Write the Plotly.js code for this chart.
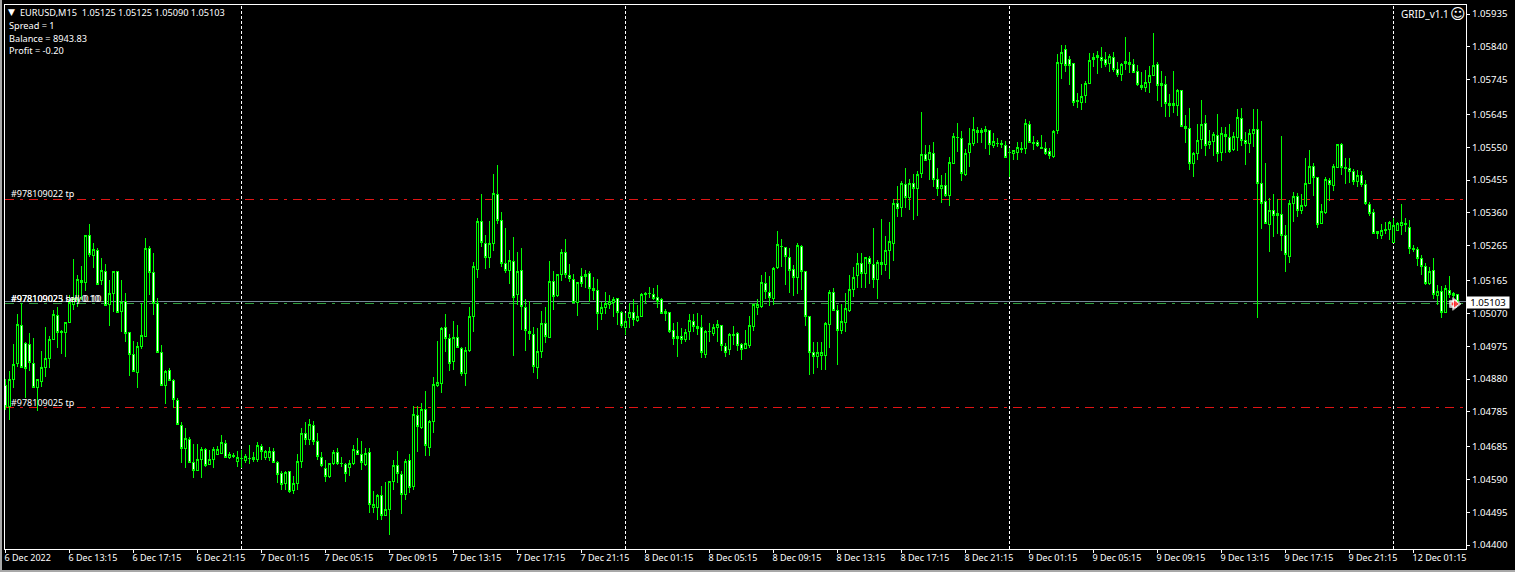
<!DOCTYPE html>
<html>
<head>
<meta charset="utf-8">
<script src="https://cdn.plot.ly/plotly-3.0.1.min.js"></script>
<style>
html,body{margin:0;padding:0;background:#000;overflow:hidden;width:1515px;height:572px}
#chart{position:absolute;left:0;top:0;width:1515px;height:572px}
.edge{position:absolute;background:#a8a8a8;z-index:5}
#chart .boxes path,#chart .shapelayer path{shape-rendering:crispEdges !important}
</style>
</head>
<body>
<div id="chart"></div>
<div class="edge" style="left:0;top:0;width:2px;height:572px"></div>
<div class="edge" style="left:0;top:570px;width:1515px;height:2px"></div>
<script>
// prices in points (1 point = 0.00001)
const opens=[
104860,104801,104880,104926,105036,104984,104981,104926,104855,104873,
104913,104940,104995,105064,105018,105014,105044,105094,105109,105166,
105159,105296,105238,105251,105164,105192,105096,105128,105192,105075,
105105,105015,104952,104899,104974,105003,105258,105189,105099,104958,
104861,104906,104877,104819,104747,104679,104706,104640,104616,104648,
104677,104632,104648,104663,104665,104695,104654,104660,104643,104651,
104644,104650,104652,104648,104685,104654,104654,104671,104639,104606,
104579,104612,104557,104579,104641,104723,104706,104745,104699,104654,
104622,104598,104636,104668,104636,104633,104625,104635,104674,104662,
104632,104668,104508,104508,104542,104487,104503,104584,104631,104605,
104546,104645,104569,104774,104739,104792,104683,104758,104861,104868,
105028,104998,104930,105001,104969,104896,104963,105061,105197,105336,
105272,105231,105272,105414,105339,105214,105193,105220,105125,105194,
105087,105018,105009,104913,104960,105041,105001,105162,105121,105182,
105246,105179,105168,105102,105175,105175,105185,105142,105136,105068,
105086,105096,105102,105113,105071,105028,105059,105073,105048,105060,
105128,105128,105125,105115,105111,105076,105073,105021,104996,105003,
104994,105017,105047,105032,105029,104952,105017,105012,105028,105035,
104974,104965,105010,105012,104980,104967,104976,105031,105086,105089,
105156,105130,105112,105202,105263,105260,105232,105197,105173,105263,
105191,105061,104957,104944,104947,104947,105038,105130,105077,105020,
105044,105077,105138,105179,105214,105184,105229,105212,105169,105217,
105211,105251,105271,105386,105375,105443,105404,105445,105430,105474,
105529,105514,105532,105457,105430,105440,105410,105503,105579,105576,
105471,105534,105561,105599,105593,105600,105599,105554,105561,105561,
105555,105535,105532,105534,105547,105547,105616,105563,105564,105550,
105547,105538,105523,105598,105793,105833,105804,105793,105686,105679,
105699,105735,105803,105814,105809,105804,105793,105810,105775,105760,
105792,105795,105790,105769,105729,105722,105737,105758,105790,105728,
105732,105670,105675,105670,105715,105609,105605,105503,105531,105572,
105619,105557,105566,105583,105534,105587,105578,105543,105577,105633,
105569,105560,105589,105601,105445,105393,105326,105366,105359,105356,
105295,105233,105387,105408,105366,105381,105444,105494,105463,105329,
105360,105454,105440,105492,105558,105492,105489,105479,105452,105467,
105442,105384,105361,105305,105296,105312,105311,105274,105308,105323,
105330,105318,105257,105255,105227,105205,105156,105194,105120,105133,
105072,105135,105127,105125];
const highs=[
104880,104904,104982,105068,105099,104988,105012,104998,104880,104961,
105029,105003,105080,105088,105022,105046,105123,105227,105181,105207,
105297,105328,105273,105258,105229,105213,105167,105192,105192,105167,
105128,105017,104990,104988,105099,105287,105265,105244,105114,104979,
104905,104911,104880,104825,104756,104738,104712,104693,104693,104685,
104680,104675,104683,104687,104719,104704,104670,104666,104673,104675,
104663,104690,104668,104699,104693,104675,104685,104680,104642,104613,
104613,104614,104600,104663,104738,104756,104765,104759,104723,104669,
104646,104638,104675,104680,104654,104638,104646,104689,104709,104701,
104680,104680,104556,104548,104571,104582,104584,104646,104672,104614,
104649,104663,104802,104802,104812,104845,104762,104885,104990,105031,
105068,105010,105048,105036,104974,104974,105087,105218,105344,105415,
105296,105337,105473,105499,105363,105316,105253,105290,105246,105258,
105110,105106,105029,105028,105077,105087,105221,105192,105185,105256,
105285,105212,105185,105161,105201,105195,105192,105176,105169,105103,
105132,105123,105116,105115,105078,105070,105099,105111,105094,105128,
105132,105146,105142,105152,105113,105082,105075,105043,105044,105028,
105026,105068,105068,105072,105065,105022,105041,105039,105050,105037,
104983,105012,105032,105015,104983,105021,105063,105098,105111,105181,
105190,105178,105203,105308,105285,105262,105260,105211,105272,105267,
105192,105063,104987,104986,104986,105044,105137,105142,105094,105096,
105128,105182,105205,105243,105243,105233,105236,105316,105224,105342,
105294,105335,105400,105438,105453,105489,105457,105472,105481,105651,
105556,105556,105564,105489,105469,105475,105522,105590,105619,105598,
105545,105605,105637,105608,105605,105611,105600,105592,105576,105571,
105567,105547,105542,105565,105565,105632,105625,105581,105571,105585,
105566,105547,105600,105820,105846,105846,105814,105794,105706,105732,
105742,105821,105821,105828,105839,105826,105820,105824,105795,105794,
105868,105824,105805,105788,105767,105772,105785,105879,105795,105771,
105756,105704,105771,105718,105716,105643,105664,105537,105617,105687,
105643,105599,105595,105646,105607,105607,105617,105595,105660,105662,
105595,105604,105660,105660,105625,105503,105402,105414,105400,105582,
105325,105397,105422,105418,105416,105518,105542,105503,105463,105387,
105463,105460,105501,105559,105563,105518,105520,105486,105484,105481,
105455,105392,105370,105308,105327,105334,105336,105344,105334,105386,
105344,105339,105267,105262,105238,105214,105204,105229,105151,105150,
105153,105177,105132,105125];
const lows=[
104791,104762,104854,104916,104913,104825,104902,104854,104789,104858,
104887,104911,104993,104969,104953,104945,105041,105080,105088,105109,
105133,105234,105200,105152,105152,105090,105032,105075,105070,105017,
104988,104890,104899,104855,104966,105003,105123,105065,104955,104860,
104808,104875,104796,104748,104637,104622,104637,104593,104613,104593,
104627,104632,104622,104661,104663,104653,104649,104651,104627,104622,
104637,104634,104639,104639,104646,104646,104642,104637,104579,104560,
104560,104550,104548,104559,104622,104689,104689,104689,104646,104627,
104581,104595,104632,104632,104627,104583,104600,104632,104660,104617,
104629,104494,104494,104473,104473,104484,104429,104559,104579,104490,
104529,104552,104559,104670,104735,104658,104658,104725,104858,104841,
104959,104904,104906,104969,104889,104860,104959,105017,105173,105261,
105198,105202,105251,105328,105205,105187,105155,104948,105094,105022,
104962,104993,104898,104880,104942,104985,105001,105080,105118,105164,
105171,105161,105099,105062,105146,105142,105102,105108,105022,105050,
105067,105082,105060,105036,105028,105007,105028,105034,105046,105058,
105099,105115,105108,105084,105068,105048,105014,104978,104944,104980,
104986,104993,105017,105007,104942,104940,104988,105004,104988,104961,
104944,104949,104978,104961,104935,104966,104969,105019,105065,105086,
105111,105092,105094,105197,105205,105152,105128,105121,105125,105137,
105033,104892,104894,104913,104906,104906,104969,105077,104920,105010,
105017,105075,105118,105142,105142,105142,105154,105142,105112,105181,
105192,105169,105222,105349,105349,105374,105369,105340,105352,105462,
105511,105455,105436,105409,105390,105405,105381,105502,105537,105451,
105467,105494,105554,105561,105563,105545,105528,105549,105550,105547,
105519,105465,105513,105513,105533,105531,105561,105542,105552,105544,
105528,105516,105518,105588,105747,105768,105730,105669,105663,105658,
105677,105733,105783,105762,105778,105783,105768,105768,105754,105742,
105773,105764,105764,105727,105714,105711,105708,105757,105685,105667,
105637,105636,105650,105640,105607,105563,105484,105465,105513,105544,
105525,105546,105524,105508,105511,105532,105532,105539,105539,105553,
105498,105532,105551,105056,105315,105327,105246,105291,105298,105249,
105190,105216,105334,105349,105357,105378,105443,105409,105316,105328,
105357,105394,105423,105489,105469,105443,105447,105442,105436,105436,
105383,105351,105299,105284,105284,105299,105282,105272,105308,105296,
105306,105241,105248,105207,105180,105151,105151,105110,105094,105056,
105072,105113,105113,105090];
const closes=[
104801,104880,104923,105038,104913,104911,104928,104855,104878,104914,
104940,104995,105067,105014,105014,105044,105101,105114,105169,105159,
105296,105241,105255,105154,105195,105093,105128,105192,105073,105101,
105012,104952,104901,104974,105007,105258,105189,105099,104957,104861,
104902,104876,104822,104750,104679,104709,104640,104616,104648,104677,
104630,104648,104677,104677,104697,104654,104663,104657,104654,104650,
104657,104649,104648,104689,104671,104671,104671,104639,104604,104576,
104611,104556,104577,104641,104723,104706,104749,104699,104656,104630,
104598,104636,104668,104635,104635,104607,104636,104677,104663,104638,
104665,104518,104518,104542,104485,104503,104584,104631,104607,104546,
104642,104567,104777,104742,104792,104687,104758,104865,104870,105027,
104998,104925,105001,104972,104896,104963,105061,105206,105336,105274,
105231,105272,105417,105338,105214,105193,105223,105115,105191,105089,
105020,105011,104916,104960,105041,105002,105162,105119,105183,105246,
105182,105170,105101,105159,105155,105182,105142,105135,105069,105087,
105099,105104,105111,105072,105034,105046,105073,105051,105060,105125,
105125,105127,105114,105105,105070,105069,105017,104996,105003,104994,
105015,105049,105031,105027,104956,105018,105016,105030,105038,104976,
104958,105009,105006,104978,104965,104983,105035,105094,105094,105159,
105134,105115,105200,105269,105262,105233,105195,105173,105266,105190,
105060,104956,104944,104957,104957,105041,105130,105079,105020,105047,
105084,105139,105174,105214,105184,105232,105214,105168,105217,105211,
105252,105278,105386,105373,105444,105404,105446,105430,105472,105530,
105512,105535,105456,105430,105440,105410,105506,105582,105578,105474,
105532,105561,105602,105593,105599,105596,105558,105567,105560,105558,
105521,105534,105540,105550,105544,105619,105563,105562,105555,105547,
105533,105526,105596,105795,105824,105786,105786,105680,105682,105697,
105735,105801,105810,105810,105800,105789,105813,105775,105760,105790,
105798,105789,105766,105730,105722,105738,105758,105786,105729,105735,
105676,105677,105670,105715,105610,105604,105503,105533,105570,105616,
105555,105567,105587,105531,105590,105580,105537,105581,105636,105569,
105560,105590,105601,105444,105387,105330,105367,105352,105352,105294,
105239,105387,105408,105366,105382,105445,105494,105463,105326,105364,
105458,105442,105494,105558,105492,105488,105479,105452,105468,105441,
105387,105357,105302,105300,105309,105308,105333,105324,105329,105333,
105326,105256,105253,105227,105204,105157,105191,105124,105133,105072,
105142,105125,105121,105103];

const timeLabels=["6 Dec 2022","6 Dec 13:15","6 Dec 17:15","6 Dec 21:15","7 Dec 01:15","7 Dec 05:15","7 Dec 09:15","7 Dec 13:15","7 Dec 17:15","7 Dec 21:15","8 Dec 01:15","8 Dec 05:15","8 Dec 09:15","8 Dec 13:15","8 Dec 17:15","8 Dec 21:15","9 Dec 01:15","9 Dec 05:15","9 Dec 09:15","9 Dec 13:15","9 Dec 17:15","9 Dec 21:15","12 Dec 01:15"];
const barsPerLabel=16;
const priceTicks=[1.05935,1.05840,1.05745,1.05645,1.05550,1.05455,1.05360,1.05265,1.05165,1.05070,1.04975,1.04880,1.04785,1.04685,1.04590,1.04495,1.04400];
const daySeparators=[59,155,251,347];
const tpLevels=[1.05400,1.04798];
const entryLevel=1.05098;
const bidLevel=1.05103;
const closeArrowBars=[361.9,362.5];
const closeArrowPrice=1.05097;
const header="EURUSD,M15  1.05125 1.05125 1.05090 1.05103";
const infoLines=["Spread = 1","Balance = 8943.83","Profit = -0.20"];

const toPrice=a=>a.map(v=>v/100000);
const xs=opens.map((_,i)=>i);

// plot box in page pixels
const L=5,R=1466,T=5,B=549,W=R-L,H=B-T;
const px=x=>(x-L)/W, py=y=>(B-y)/H;
const fam='"Noto Sans","Open Sans",sans-serif';
const font={family:fam,size:9.2,color:'#fff'};
const lab=(x,y,text,extra)=>Object.assign({xref:'paper',yref:'paper',x:px(x),y:py(y),text,showarrow:false,xanchor:'left',yanchor:'middle',borderpad:0,font},extra||{});

const shapes=[];
daySeparators.forEach(b=>shapes.push({type:'line',layer:'below',xref:'x',yref:'paper',x0:b,x1:b,y0:0,y1:1,line:{color:'#fff',width:1,dash:'3px,2px'}}));
tpLevels.forEach(p=>shapes.push({type:'line',layer:'below',xref:'paper',yref:'y',x0:0,x1:px(1463),y0:p,y1:p,line:{color:'#e01414',width:1,dash:'9px,6px,3px,6px'}}));
shapes.push({type:'line',layer:'below',xref:'paper',yref:'y',x0:0,x1:1,y0:entryLevel,y1:entryLevel,line:{color:'#2f9e3f',width:1,dash:'9px,6px,3px,6px'}});
shapes.push({type:'line',layer:'below',xref:'paper',yref:'y',x0:0,x1:1,y0:bidLevel,y1:bidLevel,line:{color:'#778899',width:1}});

const annotations=[
 lab(7,12,'▼',{font:{family:'DejaVu Sans',size:9,color:'#fff'}}),
 lab(19,12.5,header),
 lab(8,26,infoLines[0]),
 lab(8,38,infoLines[1]),
 lab(8,50,infoLines[2]),
 lab(1400,14,'GRID_v1.1',{font:{family:fam,size:10,color:'#fff'}}),
 lab(1449,14,'☺',{font:{family:'DejaVu Sans',size:15,color:'#fff'}}),
 lab(10,193.5,'#978109022 tp',{font:{family:fam,size:9,color:'#fff'}}),
 lab(10,298,'#978109023 buy 0.10',{font:{family:fam,size:9,color:'#fff'}}),
 lab(10,298,'#978109025 sell 0.10',{font:{family:fam,size:9,color:'#fff'}}),
 lab(10,402,'#978109025 tp',{font:{family:fam,size:9,color:'#fff'}}),
 lab(1466,302.5,bidLevel.toFixed(5),{bgcolor:'#fff',width:42,height:11,align:'center',font:{family:fam,size:9.6,color:'#000'}})
];

const candle={
 type:'candlestick',x:xs,open:toPrice(opens),high:toPrice(highs),low:toPrice(lows),close:toPrice(closes),
 whiskerwidth:0,hoverinfo:'skip',
 increasing:{line:{color:'#00ff00',width:1},fillcolor:'#000'},
 decreasing:{line:{color:'#00ff00',width:1},fillcolor:'#fff'}
};
// close arrow: a tail and a head, white outline under red fill
const arrowOutline={
 type:'scatter',mode:'markers',x:closeArrowBars,y:[closeArrowPrice,closeArrowPrice],hoverinfo:'skip',
 marker:{symbol:['square','triangle-right'],size:[7,11],color:'#fff'}
};
const arrow={
 type:'scatter',mode:'markers',x:closeArrowBars,y:[closeArrowPrice,closeArrowPrice],hoverinfo:'skip',
 marker:{symbol:['square','triangle-right'],size:[4,8],color:'#ff0000'}
};
const pricePerPx=1/34600;
const layout={
 width:1515,height:572,paper_bgcolor:'#000',plot_bgcolor:'#000',showlegend:false,
 margin:{l:L,r:1515-R,t:T,b:572-B,pad:0},boxgap:0.5,
 xaxis:{type:'linear',range:[(L-5.5)/4,(R-5.5)/4],rangeslider:{visible:false},showgrid:false,zeroline:false,
  showline:true,mirror:true,linecolor:'#fff',linewidth:1,ticks:'outside',ticklen:3,tickcolor:'#fff',tickwidth:1,
  tickmode:'array',tickvals:timeLabels.map((_,i)=>i*barsPerLabel),ticktext:timeLabels,tickangle:0,
  ticklabelposition:'outside right',ticklabelshift:-2,tickfont:{family:fam,size:9,color:'#fff'}},
 yaxis:{side:'right',range:[1.05935-(B-14)*pricePerPx,1.05935+(14-T)*pricePerPx],showgrid:false,zeroline:false,
  showline:true,mirror:true,linecolor:'#fff',linewidth:1,ticks:'outside',ticklen:3,tickcolor:'#fff',tickwidth:1,
  tickmode:'array',tickvals:priceTicks,ticktext:priceTicks.map(v=>v.toFixed(5)),
  tickfont:{family:fam,size:9.6,color:'#fff'}},
 shapes,annotations
};
Plotly.newPlot('chart',[candle,arrowOutline,arrow],layout,{staticPlot:true,displayModeBar:false});
</script>
</body>
</html>
